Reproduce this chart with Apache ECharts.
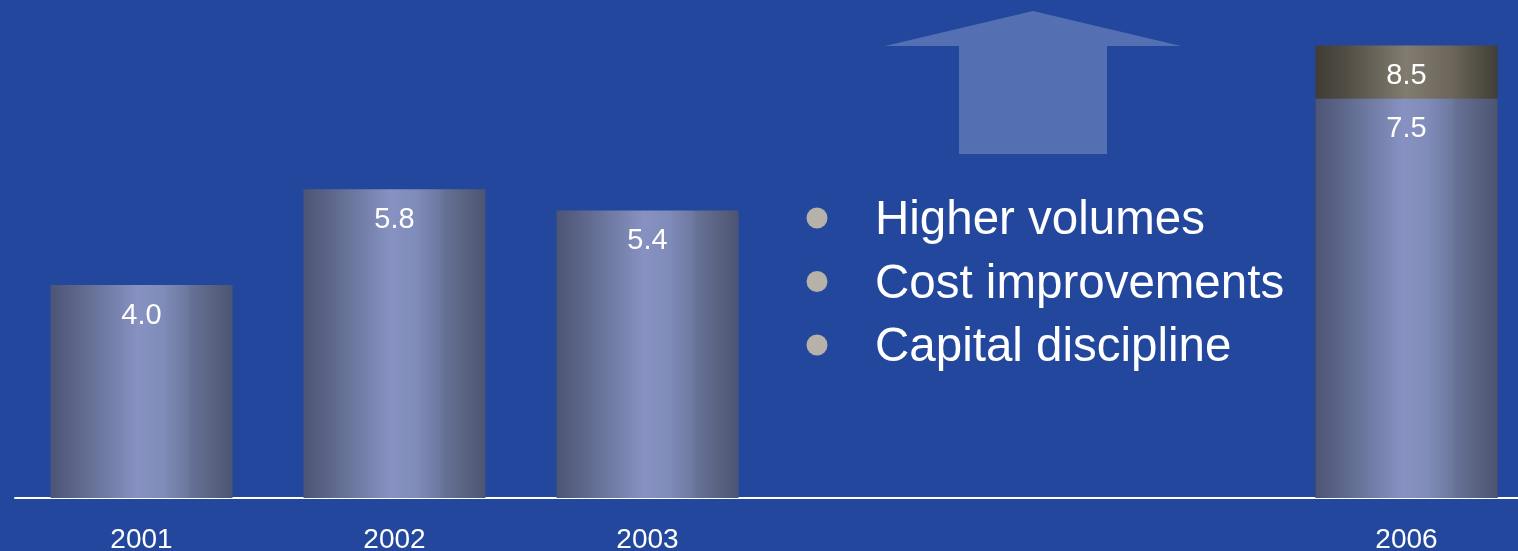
<!DOCTYPE html>
<html>
<head>
<meta charset="utf-8">
<title>Operating results</title>
<script src="https://cdn.jsdelivr.net/npm/echarts@6/dist/echarts.min.js"></script>
<style>
  html, body { margin: 0; padding: 0; background: #22479d; }
  #chart { width: 1518px; height: 551px; }
</style>
</head>
<body>
<div id="chart"></div>
<script>
// Years on the axis; the two blank slots leave room for the outlook text
const years = ['2001', '2002', '2003', '', '', '2006'];
// Reported values, and the 2006 target level
const actualValues = [4.0, 5.8, 5.4, '-', '-', 7.5];
const targetValues = ['-', '-', '-', '-', '-', 8.5];
// Drivers listed beside the arrow
const drivers = ['Higher volumes', 'Cost improvements', 'Capital discipline'];

const FONT = '"Liberation Sans", Arial, sans-serif';

// Cylinder-style shading across each bar
const blueBar = new echarts.graphic.LinearGradient(0, 0, 1, 0, [
  { offset: 0, color: '#4d5576' },
  { offset: 0.12, color: '#5a6386' },
  { offset: 0.3, color: '#6f7ba3' },
  { offset: 0.48, color: '#8792c2' },
  { offset: 0.62, color: '#7f8bb8' },
  { offset: 0.75, color: '#6e79a0' },
  { offset: 0.77, color: '#667196' },
  { offset: 0.9, color: '#59617f' },
  { offset: 1, color: '#4c5474' }
]);
const bronzeBar = new echarts.graphic.LinearGradient(0, 0, 1, 0, [
  { offset: 0, color: '#3f3d35' },
  { offset: 0.15, color: '#4f4b42' },
  { offset: 0.5, color: '#827c70' },
  { offset: 0.75, color: '#6c665a' },
  { offset: 1, color: '#403e36' }
]);

const valueLabel = {
  show: true,
  position: 'insideTop',
  distance: 16,
  color: '#ffffff',
  fontSize: 29,
  fontFamily: FONT,
  formatter: p => Number(p.value).toFixed(1)
};

const chart = echarts.init(document.getElementById('chart'), null, { renderer: 'canvas' });

const graphics = [
  {
    type: 'polygon',
    shape: {
      points: [[1033, 11], [1181, 46], [1107, 46], [1107, 154], [959, 154], [959, 46], [885, 46]]
    },
    style: { fill: '#5570b2' },
    silent: true
  }
];
drivers.forEach((line, i) => {
  const cy = 218 + i * 63.5;
  graphics.push({
    type: 'circle',
    shape: { cx: 817, cy: cy, r: 10.5 },
    style: { fill: '#b6b1a9' },
    silent: true
  });
  graphics.push({
    type: 'text',
    x: 875,
    y: cy + 3,
    style: {
      text: line,
      fill: '#ffffff',
      font: '47.5px ' + FONT,
      textVerticalAlign: 'middle'
    },
    silent: true
  });
});

chart.setOption({
  backgroundColor: '#22479d',
  animation: false,
  grid: {
    left: 15, right: -15, top: 19, bottom: 53,
    containLabel: false,
    outerBoundsMode: 'none'
  },
  xAxis: {
    type: 'category',
    data: years,
    axisLine: { show: true, lineStyle: { color: '#ffffff', width: 2 } },
    axisTick: { show: false },
    axisLabel: { color: '#ffffff', fontSize: 28, fontFamily: FONT, margin: 28 },
    splitLine: { show: false }
  },
  yAxis: {
    type: 'value',
    min: 0,
    max: 9,
    show: false,
    splitLine: { show: false }
  },
  series: [
    {
      name: 'Target',
      type: 'bar',
      data: targetValues,
      barWidth: 182,
      barGap: '-100%',
      itemStyle: { color: bronzeBar },
      label: valueLabel
    },
    {
      name: 'Actual',
      type: 'bar',
      data: actualValues,
      barWidth: 182,
      barGap: '-100%',
      itemStyle: { color: blueBar },
      label: valueLabel
    }
  ],
  graphic: graphics
});
</script>
</body>
</html>
